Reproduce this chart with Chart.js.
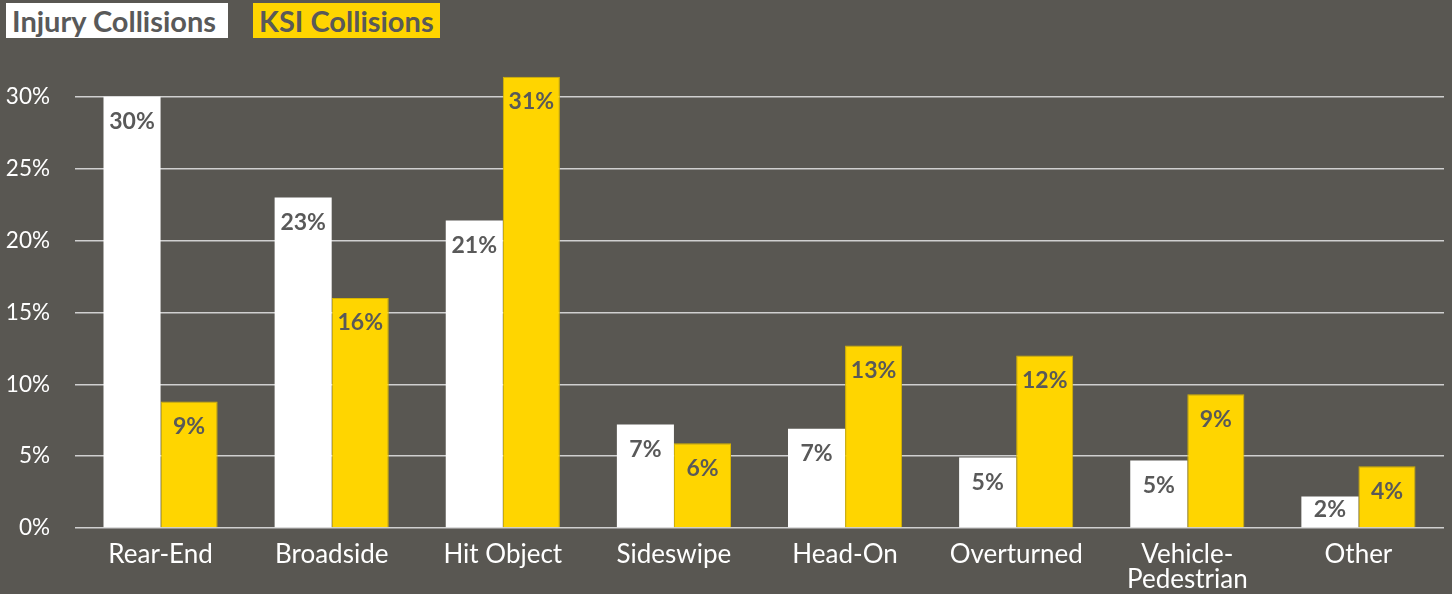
<!DOCTYPE html>
<html>
<head>
<meta charset="utf-8">
<script src="https://cdn.jsdelivr.net/npm/chart.js@4"></script>
<style>
  html, body { margin: 0; padding: 0; background: #595752; }
  #wrap { position: relative; width: 1452px; height: 594px; }
  .leg { position: absolute; top: 3px; height: 35px; line-height: 36px; font-family: Lato, sans-serif;
         font-weight: bold; font-size: 29px; color: #595959; padding: 0 6px; box-sizing: border-box;
         white-space: nowrap; }
</style>
</head>
<body>
<div id="wrap">
  <canvas id="grafico" width="1452" height="594"></canvas>
  <div class="leg" style="left:6px;width:222px;background:#ffffff;">Injury Collisions</div>
  <div class="leg" style="left:253px;width:187px;background:#ffd500;">KSI Collisions</div>
</div>
<script>
// datos
const categorias = ["Rear-End", "Broadside", "Hit Object", "Sideswipe", "Head-On", "Overturned", ["Vehicle-", "Pedestrian"], "Other"];
const injury = [30.0, 23.0, 21.4, 7.2, 6.9, 4.9, 4.7, 2.2];
const ksi = [8.8, 16.0, 31.4, 5.9, 12.7, 12.0, 9.3, 4.3];
const ticksY = [0, 5, 10, 15, 20, 25, 30];

// etiquetas dentro de las barras
const etiquetas = {
  id: "etiquetas",
  afterDatasetsDraw(chart) {
    const ctx = chart.ctx;
    const base = chart.scales.y.getPixelForValue(0);
    ctx.save();
    ctx.font = "bold 23px Lato, sans-serif";
    ctx.fillStyle = "#595959";
    ctx.textAlign = "center";
    ctx.textBaseline = "middle";
    chart.data.datasets.forEach((ds, i) => {
      chart.getDatasetMeta(i).data.forEach((bar, j) => {
        const y = Math.min(bar.y + 25, base - 18);
        ctx.fillText(Math.round(ds.data[j]) + "%", bar.x, y);
      });
    });
    ctx.restore();
  }
};

new Chart(document.getElementById("grafico").getContext("2d"), {
  type: "bar",
  data: {
    labels: categorias,
    datasets: [
      { label: "Injury Collisions", data: injury, backgroundColor: "#ffffff",
        barPercentage: 1, categoryPercentage: 0.667 },
      { label: "KSI Collisions", data: ksi, backgroundColor: "#ffd500",
        borderColor: "#d6b400", borderWidth: 1,
        barPercentage: 1, categoryPercentage: 0.667 }
    ]
  },
  options: {
    responsive: false,
    animation: false,
    layout: { padding: { top: 68, right: 8, left: 0, bottom: 0 } },
    plugins: { legend: { display: false }, tooltip: { enabled: false } },
    scales: {
      x: {
        grid: { display: false },
        border: { display: false },
        ticks: { color: "#ffffff", font: { family: "Lato, sans-serif", size: 26, lineHeight: 0.97 },
                 padding: 6, maxRotation: 0 },
        afterFit(s) { s.height = 66; }
      },
      y: {
        min: 0, max: 32,
        afterBuildTicks(s) { s.ticks = ticksY.map(v => ({ value: v })); },
        afterFit(s) { s.width = 75; },
        grid: { color: "#d0d0d0", lineWidth: 1.5, drawTicks: false },
        border: { display: false },
        ticks: { color: "#ffffff", font: { family: "Lato, sans-serif", size: 22.5 }, padding: 25,
                 callback: v => v + "%" }
      }
    }
  },
  plugins: [etiquetas]
});
</script>
</body>
</html>
